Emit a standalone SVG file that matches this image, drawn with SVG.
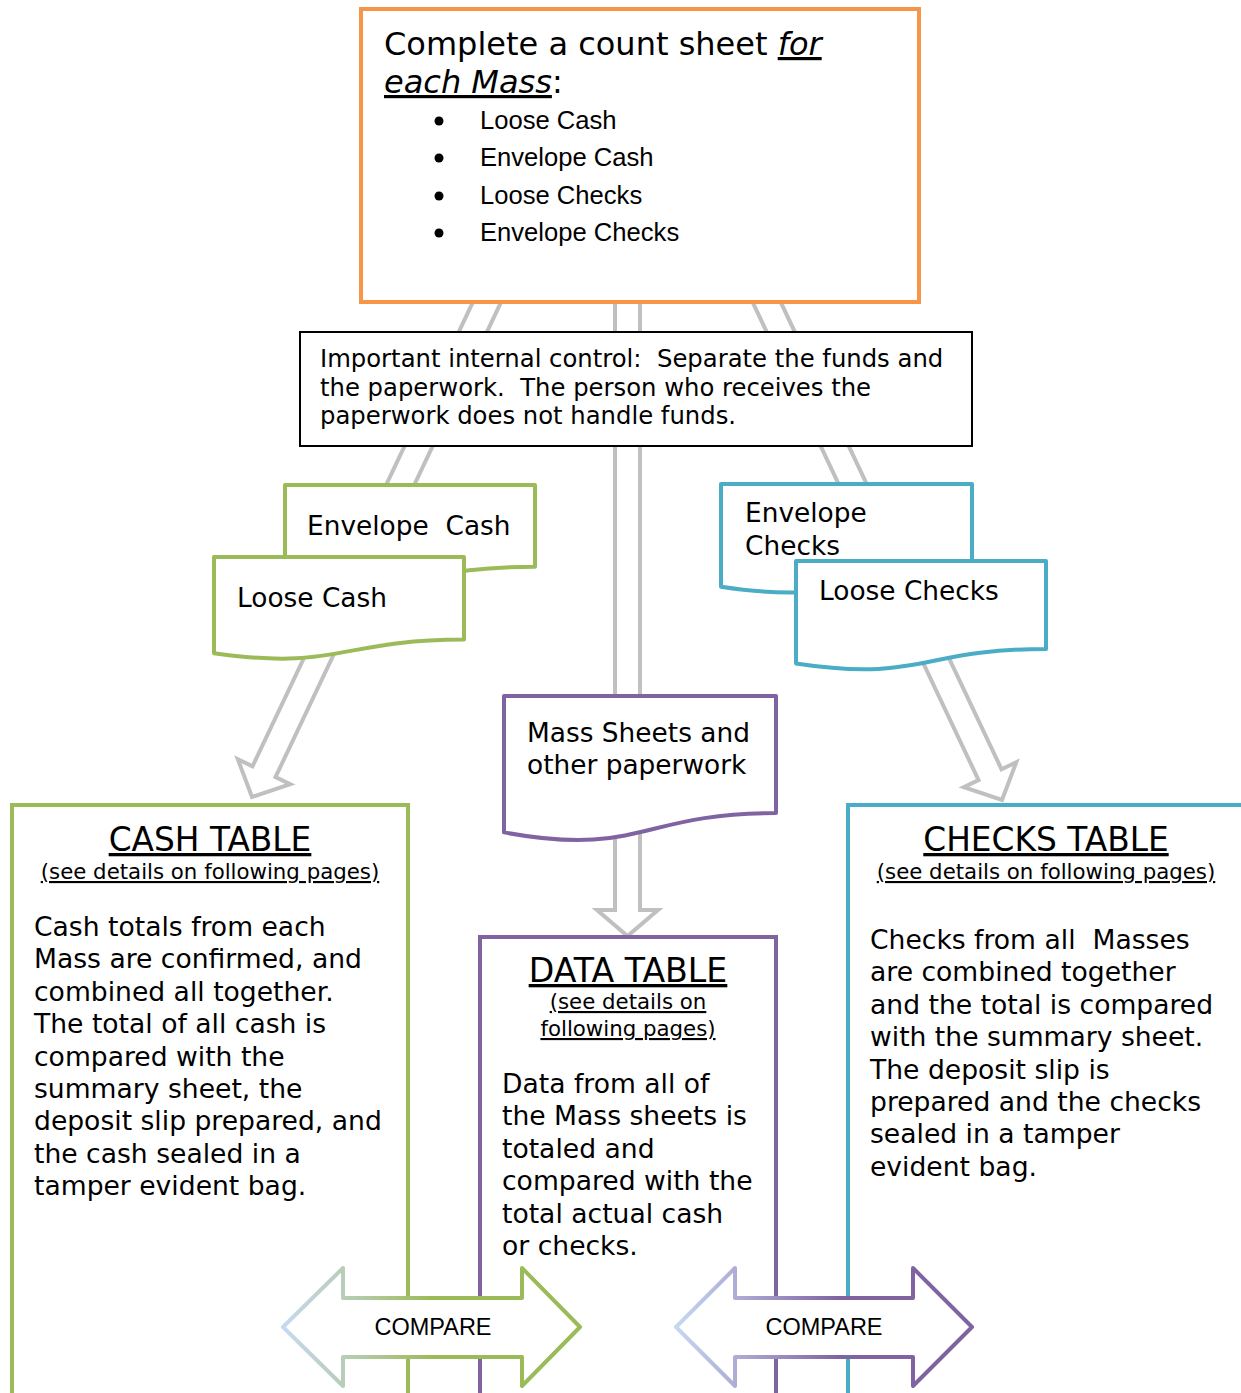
<svg xmlns="http://www.w3.org/2000/svg" width="1241" height="1393" viewBox="0 0 1241 1393">
<defs>
<style>
.t{font-family:"DejaVu Sans",Verdana,sans-serif;fill:#000}
.c{font-family:"Liberation Sans",Arial,sans-serif;fill:#000}
.flow{fill:#fff;stroke:#c0c0c0;stroke-width:4;stroke-linejoin:miter}
.doc{fill:#fff;stroke-width:4;stroke-linejoin:round}
.g{stroke:#9bbb59}
.b{stroke:#4bacc6}
.p{stroke:#8064a2}
.u{text-decoration:underline}
</style>
<linearGradient id="gl" gradientUnits="userSpaceOnUse" x1="283" y1="0" x2="580" y2="0">
<stop offset="0" stop-color="#c6d9f1"/>
<stop offset="0.25" stop-color="#b4cbaa"/>
<stop offset="0.5" stop-color="#9bbb59"/>
<stop offset="1" stop-color="#9bbb59"/>
</linearGradient>
<linearGradient id="gr" gradientUnits="userSpaceOnUse" x1="676" y1="0" x2="972" y2="0">
<stop offset="0" stop-color="#c6d9f1"/>
<stop offset="0.25" stop-color="#a9a2cf"/>
<stop offset="0.55" stop-color="#8064a2"/>
<stop offset="1" stop-color="#8064a2"/>
</linearGradient>
</defs>
<rect width="1241" height="1393" fill="#fff"/>

<g id="connectors">
<polygon class="flow" transform="translate(252,797) rotate(25.4)" points="-12.7,-560 -12.7,-28 -29,-28 0,0 29,-28 12.7,-28 12.7,-560"/>
<polygon class="flow" transform="translate(1002,800) rotate(-25.3)" points="-12.7,-560 -12.7,-28 -29,-28 0,0 29,-28 12.7,-28 12.7,-560"/>
<polygon class="flow" points="615,300 615,910 597,910 627.5,936 658,910 640,910 640,300"/>
</g>

<g id="count-sheet">
<rect x="361" y="9" width="558" height="293" fill="#fff" stroke="#f79646" stroke-width="4"/>
<text class="t" x="384" y="55" font-size="32">Complete a count sheet <tspan font-style="italic" class="u">for</tspan></text>
<text class="t" x="384" y="93" font-size="32"><tspan font-style="italic" class="u">each Mass</tspan>:</text>
<circle cx="439" cy="121" r="4.5"/>
<circle cx="439" cy="158" r="4.5"/>
<circle cx="439" cy="196" r="4.5"/>
<circle cx="439" cy="233" r="4.5"/>
<text class="c" x="480" y="129" font-size="25.6">Loose Cash</text>
<text class="c" x="480" y="166" font-size="25.6">Envelope Cash</text>
<text class="c" x="480" y="204" font-size="25.6">Loose Checks</text>
<text class="c" x="480" y="241" font-size="25.6">Envelope Checks</text>
</g>

<g id="internal-control">
<rect x="300" y="332" width="672" height="114" fill="#fff" stroke="#000" stroke-width="2"/>
<text class="t" x="320" y="367" font-size="24.3" xml:space="preserve">Important internal control:  Separate the funds and</text>
<text class="t" x="320" y="395.5" font-size="24.3" xml:space="preserve">the paperwork.  The person who receives the</text>
<text class="t" x="320" y="424" font-size="24.3">paperwork does not handle funds.</text>
</g>

<g id="envelope-cash">
<path class="doc g" d="M285,485 H535 V566.8 C410,566.8 410,597.9 285,580.3 Z"/>
<text class="t" x="307" y="535" font-size="26.4" xml:space="preserve">Envelope  Cash</text>
</g>
<g id="loose-cash">
<path class="doc g" d="M214,557 H464 V639.6 C339,639.6 339,671 214,653.2 Z"/>
<text class="t" x="237" y="607" font-size="26.4">Loose Cash</text>
</g>

<g id="envelope-checks">
<path class="doc b" d="M721,484 H972 V572.2 C846.5,572.2 846.5,605.8 721,586.7 Z"/>
<text class="t" x="745" y="522" font-size="26.4">Envelope</text>
<text class="t" x="745" y="555" font-size="26.4">Checks</text>
</g>
<g id="loose-checks">
<path class="doc b" d="M796,561 H1046 V649 C921,649 921,682.5 796,663.5 Z"/>
<text class="t" x="819" y="600" font-size="26.4">Loose Checks</text>
</g>

<g id="mass-sheets">
<path class="doc p" d="M504,696 H776 V813.1 C640,813.1 640,857.6 504,832.4 Z"/>
<text class="t" x="527" y="742" font-size="26.4">Mass Sheets and</text>
<text class="t" x="527" y="774" font-size="26.4">other paperwork</text>
</g>

<g id="cash-table">
<rect x="12" y="805" width="396" height="700" fill="#fff" stroke="#9bbb59" stroke-width="4"/>
<text class="t u" x="210" y="851" font-size="32.8" text-anchor="middle">CASH TABLE</text>
<text class="t u" x="210" y="879" font-size="21.3" text-anchor="middle">(see details on following pages)</text>
<g class="t" font-size="26.6">
<text x="34" y="936">Cash totals from each</text>
<text x="34" y="968.4">Mass are confirmed, and</text>
<text x="34" y="1000.8">combined all together.</text>
<text x="34" y="1033.2">The total of all cash is</text>
<text x="34" y="1065.6">compared with the</text>
<text x="34" y="1098">summary sheet, the</text>
<text x="34" y="1130.4">deposit slip prepared, and</text>
<text x="34" y="1162.8">the cash sealed in a</text>
<text x="34" y="1195.2">tamper evident bag.</text>
</g>
</g>

<g id="data-table">
<rect x="480" y="937" width="296" height="600" fill="#fff" stroke="#8064a2" stroke-width="4"/>
<text class="t u" x="628" y="982" font-size="33.2" text-anchor="middle">DATA TABLE</text>
<text class="t u" x="628" y="1009" font-size="21.3" text-anchor="middle">(see details on</text>
<text class="t u" x="628" y="1036" font-size="21.3" text-anchor="middle">following pages)</text>
<g class="t" font-size="26.6">
<text x="502" y="1093">Data from all of</text>
<text x="502" y="1125.4">the Mass sheets is</text>
<text x="502" y="1157.8">totaled and</text>
<text x="502" y="1190.2">compared with the</text>
<text x="502" y="1222.6">total actual cash</text>
<text x="502" y="1255">or checks.</text>
</g>
</g>

<g id="checks-table">
<rect x="848" y="805" width="500" height="700" fill="#fff" stroke="#4bacc6" stroke-width="4"/>
<text class="t u" x="1046" y="851" font-size="32.8" text-anchor="middle">CHECKS TABLE</text>
<text class="t u" x="1046" y="879" font-size="21.3" text-anchor="middle">(see details on following pages)</text>
<g class="t" font-size="26.6">
<text x="870" y="949" xml:space="preserve">Checks from all  Masses</text>
<text x="870" y="981.4">are combined together</text>
<text x="870" y="1013.8">and the total is compared</text>
<text x="870" y="1046.2">with the summary sheet.</text>
<text x="870" y="1078.6">The deposit slip is</text>
<text x="870" y="1111">prepared and the checks</text>
<text x="870" y="1143.4">sealed in a tamper</text>
<text x="870" y="1175.8">evident bag.</text>
</g>
</g>

<g id="compare-left">
<polygon points="283,1327 343,1268 343,1298 522,1298 522,1268 580,1327 522,1386 522,1357 343,1357 343,1386" fill="#fff" stroke="url(#gl)" stroke-width="4" stroke-linejoin="round"/>
<text class="c" x="433" y="1335" font-size="23.5" text-anchor="middle">COMPARE</text>
</g>
<g id="compare-right">
<polygon points="676,1327 735,1268 735,1298 913,1298 913,1268 972,1327 913,1386 913,1357 735,1357 735,1386" fill="#fff" stroke="url(#gr)" stroke-width="4" stroke-linejoin="round"/>
<text class="c" x="824" y="1335" font-size="23.5" text-anchor="middle">COMPARE</text>
</g>
</svg>
